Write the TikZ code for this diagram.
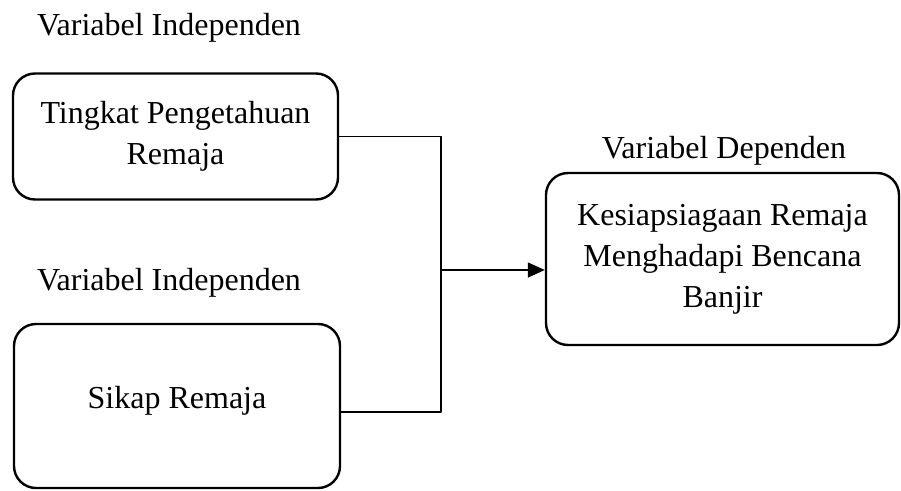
\documentclass[tikz,border=0pt]{standalone}
\usepackage{fontspec}
\setmainfont{Liberation Serif}
\usetikzlibrary{arrows.meta}
\begin{document}
\begin{tikzpicture}[x=1pt, y=-1pt, line join=round, font=\fontsize{32}{41}\selectfont,
		varbox/.style={draw, line width=2.4pt, rounded corners=22pt, align=center, inner sep=0pt},
		link/.style={line width=1.3pt}]
		\useasboundingbox (0,0) rectangle (901,490);
		% judul variabel
		\node[anchor=base] (judulA) at (169,35) {Variabel Independen};
		\node[anchor=base] (judulB) at (169,290) {Variabel Independen};
		\node[anchor=base] (judulC) at (724,158) {Variabel Dependen};
		% kotak variabel
		\node[varbox, minimum width=325pt, minimum height=126pt] (pengetahuan) at (175.5,136.5) {Tingkat Pengetahuan\\Remaja};
		\node[varbox, minimum width=326pt, minimum height=164pt, text depth=18pt] (sikap) at (177,406) {Sikap Remaja};
		\node[varbox, minimum width=353pt, minimum height=172pt] (kesiapsiagaan) at (722.5,259) {Kesiapsiagaan Remaja\\Menghadapi Bencana\\Banjir};
		% garis penghubung
		\coordinate (cabang) at (441,270);
		\draw[link] (pengetahuan.east) -| (cabang);
		\draw[link] ([yshift=-6pt]sikap.east) -| (cabang);
		\draw[link, -{Triangle[length=17pt, width=15pt]}] (cabang) -- (cabang -| kesiapsiagaan.west);
\end{tikzpicture}
\end{document}
